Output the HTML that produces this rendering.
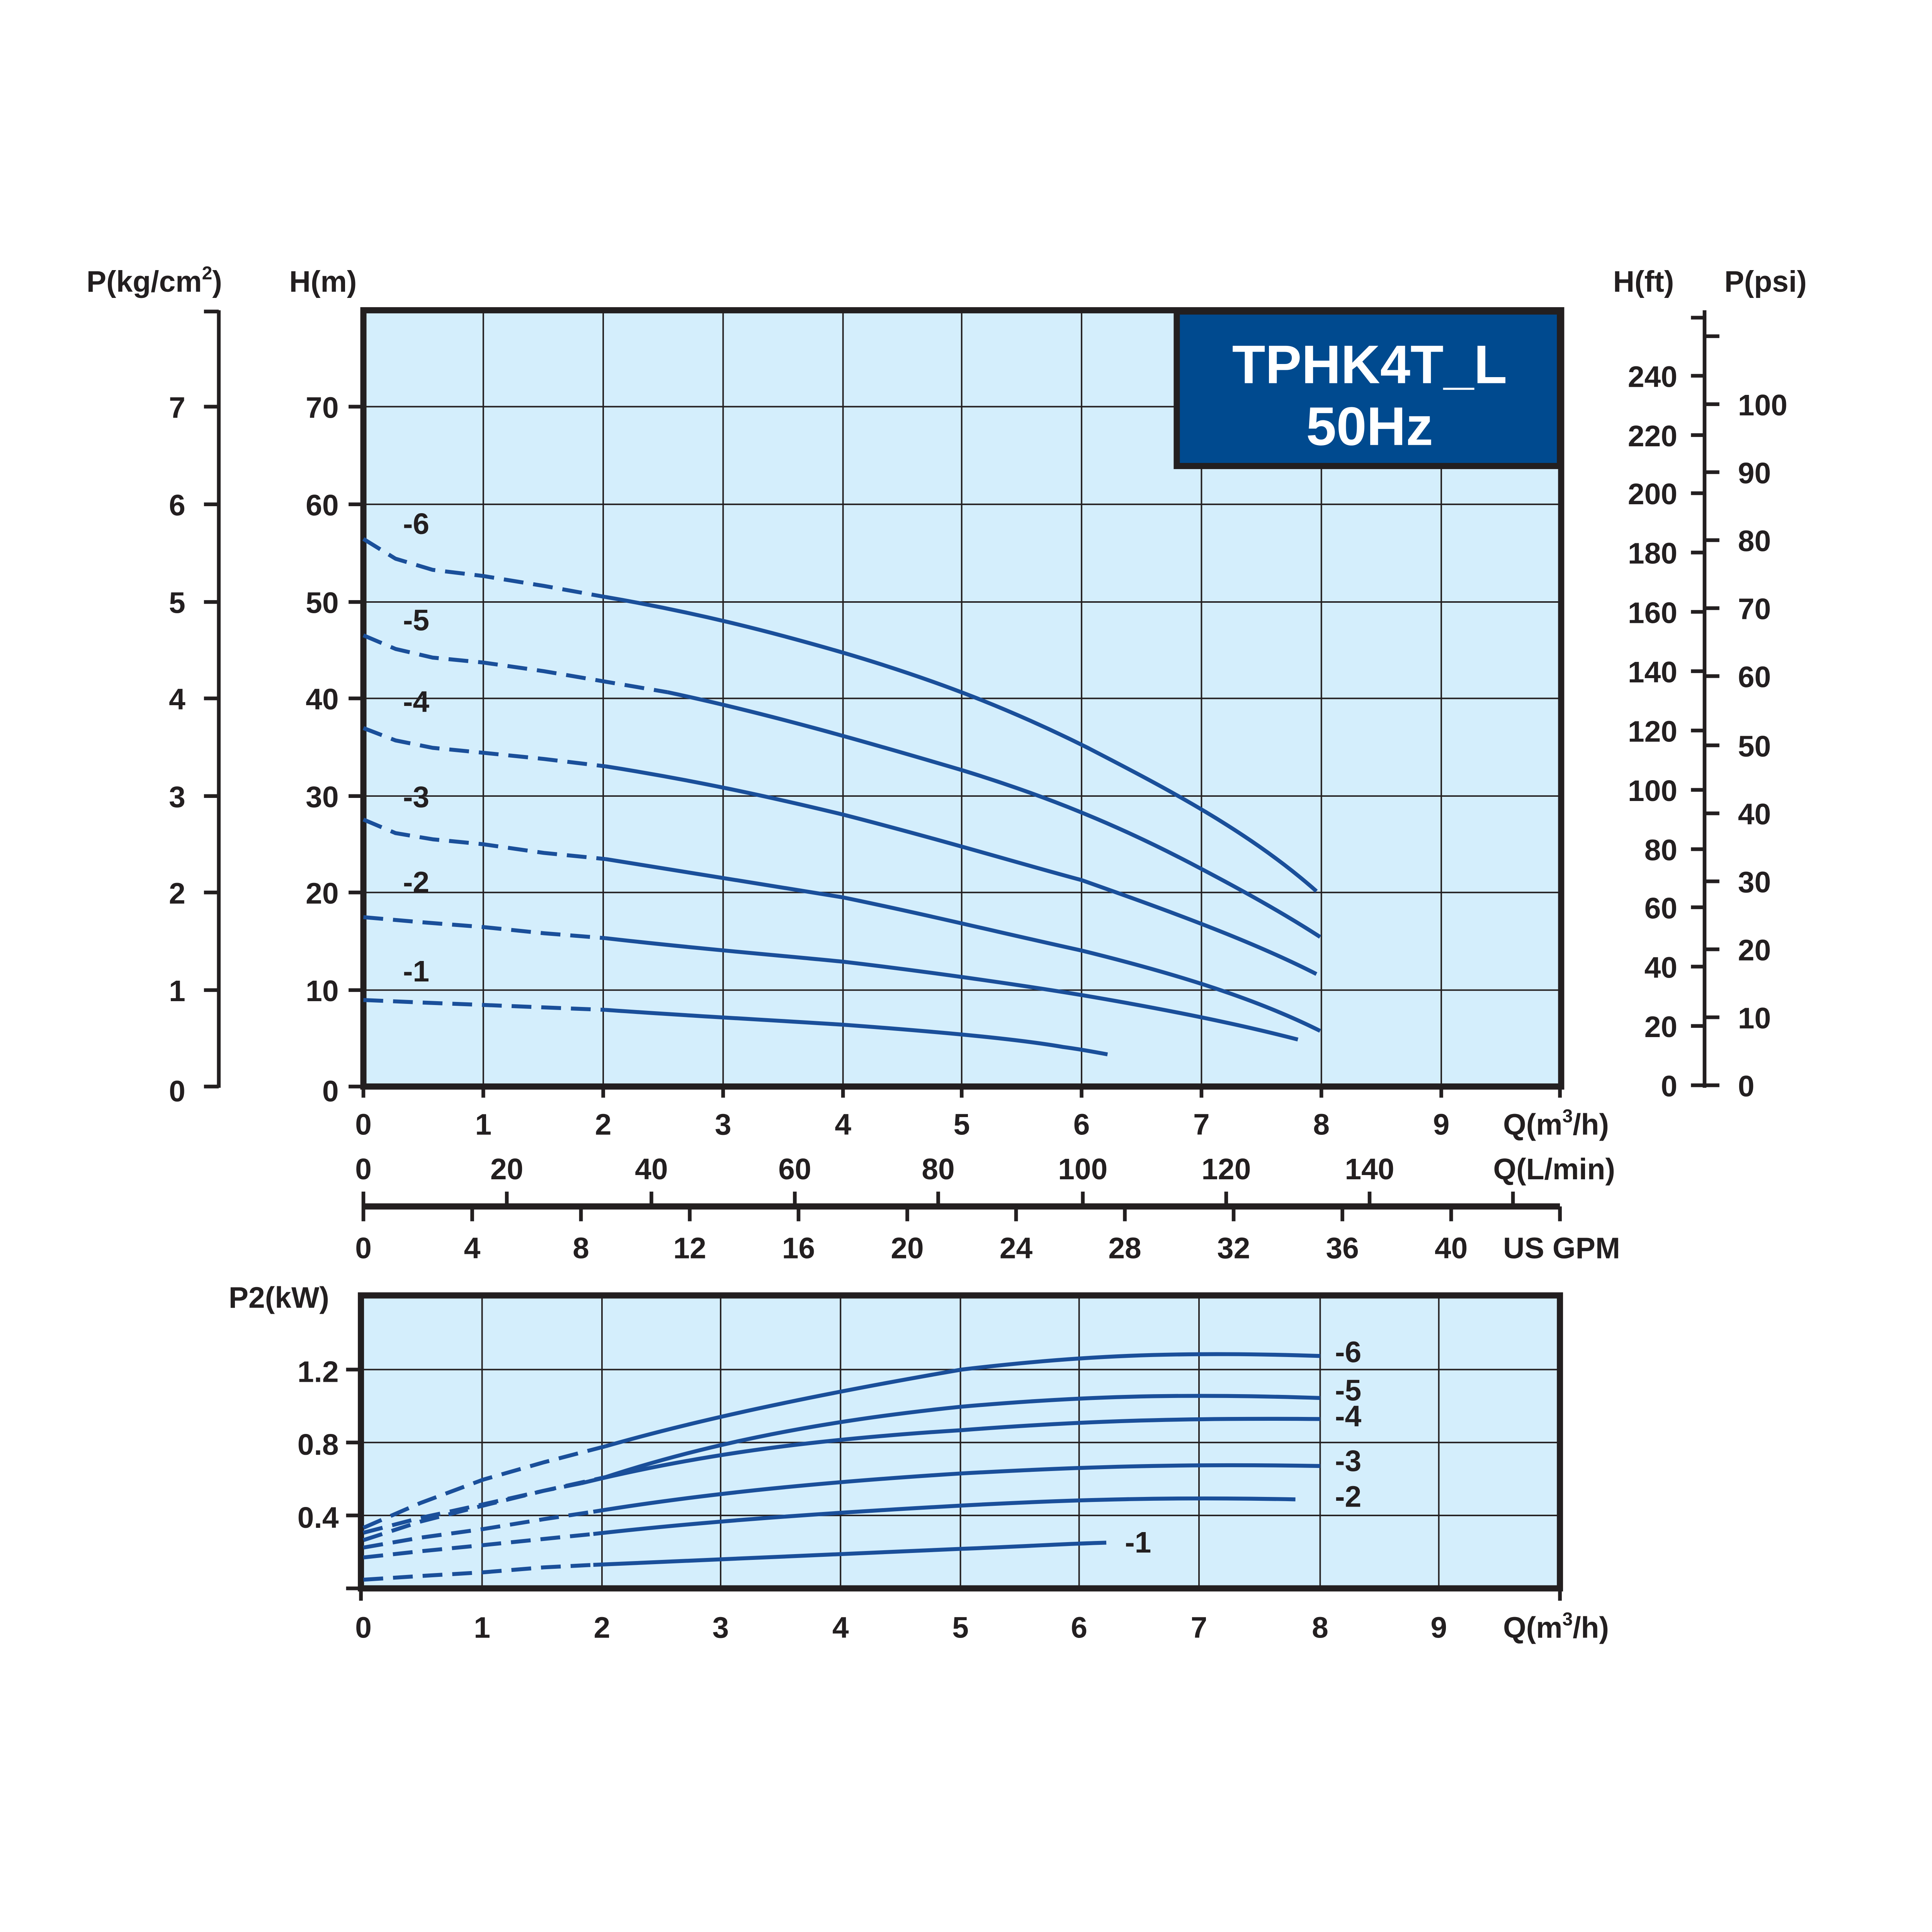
<!DOCTYPE html>
<html><head><meta charset="utf-8"><style>
html,body{margin:0;padding:0;background:#fff;overflow:hidden;width:100%;height:100%;}
svg{display:block;position:fixed;left:0;top:0;width:100vw;height:100vh;}
text{font-family:"Liberation Sans",sans-serif;font-weight:bold;fill:#231f20;}
</style></head><body>
<svg viewBox="0 0 1563 1563" preserveAspectRatio="xMidYMid meet" xmlns="http://www.w3.org/2000/svg">
<rect x="0" y="0" width="1563" height="1563" fill="#fff"/>
<rect x="294" y="251" width="969" height="628" fill="#d4eefc"/>
<g stroke="#231f20" stroke-width="1.2">
<line x1="391" y1="251" x2="391" y2="879"/><line x1="488" y1="251" x2="488" y2="879"/>
<line x1="585" y1="251" x2="585" y2="879"/><line x1="682" y1="251" x2="682" y2="879"/>
<line x1="778" y1="251" x2="778" y2="879"/><line x1="875" y1="251" x2="875" y2="879"/>
<line x1="972" y1="251" x2="972" y2="879"/><line x1="1069" y1="251" x2="1069" y2="879"/>
<line x1="1166" y1="251" x2="1166" y2="879"/>
<line x1="294" y1="801" x2="1263" y2="801"/><line x1="294" y1="722" x2="1263" y2="722"/>
<line x1="294" y1="644" x2="1263" y2="644"/><line x1="294" y1="565" x2="1263" y2="565"/>
<line x1="294" y1="487" x2="1263" y2="487"/><line x1="294" y1="408" x2="1263" y2="408"/>
<line x1="294" y1="329" x2="1263" y2="329"/>
</g>
<rect x="952" y="252" width="310" height="125" fill="#004a8f" stroke="#231f20" stroke-width="5"/>
<rect x="294" y="251" width="969" height="628" fill="none" stroke="#231f20" stroke-width="5"/>
<text x="1108" y="310" font-size="44" style="fill:#fff" text-anchor="middle">TPHK4T_L</text>
<text x="1108" y="360" font-size="44" style="fill:#fff" text-anchor="middle">50Hz</text>
<g stroke="#231f20" stroke-width="3">
<line x1="282" y1="879" x2="294" y2="879"/><line x1="282" y1="801" x2="294" y2="801"/>
<line x1="282" y1="722" x2="294" y2="722"/><line x1="282" y1="644" x2="294" y2="644"/>
<line x1="282" y1="565" x2="294" y2="565"/><line x1="282" y1="487" x2="294" y2="487"/>
<line x1="282" y1="408" x2="294" y2="408"/><line x1="282" y1="329" x2="294" y2="329"/>
<line x1="294" y1="879" x2="294" y2="888"/><line x1="391" y1="879" x2="391" y2="888"/>
<line x1="488" y1="879" x2="488" y2="888"/><line x1="585" y1="879" x2="585" y2="888"/>
<line x1="682" y1="879" x2="682" y2="888"/><line x1="778" y1="879" x2="778" y2="888"/>
<line x1="875" y1="879" x2="875" y2="888"/><line x1="972" y1="879" x2="972" y2="888"/>
<line x1="1069" y1="879" x2="1069" y2="888"/><line x1="1166" y1="879" x2="1166" y2="888"/>
<line x1="1262" y1="879" x2="1262" y2="888"/>
<line x1="177" y1="251" x2="177" y2="880"/>
<line x1="165" y1="252" x2="177" y2="252"/>
<line x1="165" y1="879" x2="177" y2="879"/><line x1="165" y1="801" x2="177" y2="801"/>
<line x1="165" y1="722" x2="177" y2="722"/><line x1="165" y1="644" x2="177" y2="644"/>
<line x1="165" y1="565" x2="177" y2="565"/><line x1="165" y1="487" x2="177" y2="487"/>
<line x1="165" y1="408" x2="177" y2="408"/><line x1="165" y1="329" x2="177" y2="329"/>
<line x1="1379" y1="251" x2="1379" y2="880"/>
<line x1="1368" y1="878" x2="1379" y2="878"/><line x1="1368" y1="830" x2="1379" y2="830"/>
<line x1="1368" y1="782" x2="1379" y2="782"/><line x1="1368" y1="734" x2="1379" y2="734"/>
<line x1="1368" y1="687" x2="1379" y2="687"/><line x1="1368" y1="639" x2="1379" y2="639"/>
<line x1="1368" y1="591" x2="1379" y2="591"/><line x1="1368" y1="543" x2="1379" y2="543"/>
<line x1="1368" y1="495" x2="1379" y2="495"/><line x1="1368" y1="447" x2="1379" y2="447"/>
<line x1="1368" y1="399" x2="1379" y2="399"/><line x1="1368" y1="352" x2="1379" y2="352"/>
<line x1="1368" y1="304" x2="1379" y2="304"/><line x1="1368" y1="257" x2="1379" y2="257"/>
<line x1="1379" y1="878" x2="1391" y2="878"/><line x1="1379" y1="823" x2="1391" y2="823"/>
<line x1="1379" y1="768" x2="1391" y2="768"/><line x1="1379" y1="713" x2="1391" y2="713"/>
<line x1="1379" y1="658" x2="1391" y2="658"/><line x1="1379" y1="603" x2="1391" y2="603"/>
<line x1="1379" y1="547" x2="1391" y2="547"/><line x1="1379" y1="492" x2="1391" y2="492"/>
<line x1="1379" y1="437" x2="1391" y2="437"/><line x1="1379" y1="382" x2="1391" y2="382"/>
<line x1="1379" y1="327" x2="1391" y2="327"/><line x1="1379" y1="272" x2="1391" y2="272"/>
<line x1="294" y1="976" x2="1262" y2="976" stroke-width="5"/>
<line x1="294" y1="964" x2="294" y2="988"/>
<line x1="410" y1="964" x2="410" y2="976"/><line x1="527" y1="964" x2="527" y2="976"/>
<line x1="643" y1="964" x2="643" y2="976"/><line x1="759" y1="964" x2="759" y2="976"/>
<line x1="876" y1="964" x2="876" y2="976"/><line x1="992" y1="964" x2="992" y2="976"/>
<line x1="1108" y1="964" x2="1108" y2="976"/><line x1="1224" y1="964" x2="1224" y2="976"/>
<line x1="382" y1="976" x2="382" y2="988"/><line x1="470" y1="976" x2="470" y2="988"/>
<line x1="558" y1="976" x2="558" y2="988"/><line x1="646" y1="976" x2="646" y2="988"/>
<line x1="734" y1="976" x2="734" y2="988"/><line x1="822" y1="976" x2="822" y2="988"/>
<line x1="910" y1="976" x2="910" y2="988"/><line x1="998" y1="976" x2="998" y2="988"/>
<line x1="1086" y1="976" x2="1086" y2="988"/><line x1="1174" y1="976" x2="1174" y2="988"/>
<line x1="1262" y1="976" x2="1262" y2="988"/>
</g>
<g font-size="24">
<text x="70" y="236">P(kg/cm<tspan font-size="15" dy="-10">2</tspan><tspan dy="10">)</tspan></text>
<text x="234" y="236">H(m)</text>
<text x="1305" y="236">H(ft)</text>
<text x="1395" y="236">P(psi)</text>
<g text-anchor="end">
<text x="274" y="891">0</text><text x="274" y="810">10</text><text x="274" y="731">20</text><text x="274" y="653">30</text>
<text x="274" y="574">40</text><text x="274" y="496">50</text><text x="274" y="417">60</text><text x="274" y="338">70</text>
<text x="150" y="891">0</text><text x="150" y="810">1</text><text x="150" y="731">2</text><text x="150" y="653">3</text>
<text x="150" y="574">4</text><text x="150" y="496">5</text><text x="150" y="417">6</text><text x="150" y="338">7</text>
<text x="1357" y="887">0</text><text x="1357" y="839">20</text><text x="1357" y="791">40</text><text x="1357" y="743">60</text>
<text x="1357" y="696">80</text><text x="1357" y="648">100</text><text x="1357" y="600">120</text><text x="1357" y="552">140</text>
<text x="1357" y="504">160</text><text x="1357" y="456">180</text><text x="1357" y="408">200</text><text x="1357" y="361">220</text>
<text x="1357" y="313">240</text>
</g>
<text x="1406" y="887">0</text><text x="1406" y="832">10</text><text x="1406" y="777">20</text><text x="1406" y="722">30</text>
<text x="1406" y="667">40</text><text x="1406" y="612">50</text><text x="1406" y="556">60</text><text x="1406" y="501">70</text>
<text x="1406" y="446">80</text><text x="1406" y="391">90</text><text x="1406" y="336">100</text>
<g text-anchor="middle">
<text x="294" y="918">0</text><text x="391" y="918">1</text><text x="488" y="918">2</text><text x="585" y="918">3</text>
<text x="682" y="918">4</text><text x="778" y="918">5</text><text x="875" y="918">6</text><text x="972" y="918">7</text>
<text x="1069" y="918">8</text><text x="1166" y="918">9</text>
<text x="294" y="954">0</text><text x="410" y="954">20</text><text x="527" y="954">40</text><text x="643" y="954">60</text>
<text x="759" y="954">80</text><text x="876" y="954">100</text><text x="992" y="954">120</text><text x="1108" y="954">140</text>
<text x="294" y="1018">0</text><text x="382" y="1018">4</text><text x="470" y="1018">8</text><text x="558" y="1018">12</text>
<text x="646" y="1018">16</text><text x="734" y="1018">20</text><text x="822" y="1018">24</text><text x="910" y="1018">28</text>
<text x="998" y="1018">32</text><text x="1086" y="1018">36</text><text x="1174" y="1018">40</text>
<text x="294" y="1325">0</text><text x="390" y="1325">1</text><text x="487" y="1325">2</text><text x="583" y="1325">3</text>
<text x="680" y="1325">4</text><text x="777" y="1325">5</text><text x="873" y="1325">6</text><text x="970" y="1325">7</text>
<text x="1068" y="1325">8</text><text x="1164" y="1325">9</text>
</g>
<text x="1216" y="918">Q(m<tspan font-size="15" dy="-10">3</tspan><tspan dy="10">/h)</tspan></text>
<text x="1208" y="954">Q(L/min)</text>
<text x="1216" y="1018">US GPM</text>
<text x="1216" y="1325">Q(m<tspan font-size="15" dy="-10">3</tspan><tspan dy="10">/h)</tspan></text>
<text x="185" y="1058">P2(kW)</text>
<g text-anchor="end">
<text x="274" y="1118">1.2</text><text x="274" y="1177">0.8</text><text x="274" y="1236">0.4</text>
</g>
</g>
<g fill="none" stroke="#1a4f9a" stroke-width="3.2" stroke-linejoin="round">
<g stroke-dasharray="16,8">
<polyline points="294,436 320,452 350,461 391,466 440,474 490,483"/>
<polyline points="294,514 320,525 350,532 391,536 440,543 540,560"/>
<polyline points="294,589 320,599 350,605 391,609 440,614 490,620"/>
<polyline points="294,663 320,674 350,679 391,683 440,690 490,695"/>
<polyline points="294,742 340,746 391,750 440,755 490,759"/>
<polyline points="294,809 340,811 391,813 440,815 490,817"/>
</g>
<path d="M490,483 C560,495 620,510 682,528 C760,551 820,575 880,605 C940,636 1010,672 1065,721"/>
<path d="M540,560 C620,577 700,600 778,623 C850,645 910,670 972,703 C1010,723 1040,740 1068,758"/>
<path d="M490,620 C560,631 620,644 682,659 C760,679 830,700 875,712 C940,735 1010,760 1065,788"/>
<path d="M490,695 C560,706 620,716 682,726 C750,740 820,757 875,769 C940,785 1010,805 1068,834"/>
<path d="M490,759 C560,767 620,772 682,778 C750,786 820,796 875,805 C940,816 1000,828 1050,841"/>
<path d="M490,817 C560,822 620,825 682,829 C750,834 820,840 860,847 C875,849 885,851 896,853"/>
</g>
<g font-size="24">
<text x="326" y="432">-6</text><text x="326" y="510">-5</text><text x="326" y="576">-4</text>
<text x="326" y="653">-3</text><text x="326" y="722">-2</text><text x="326" y="794">-1</text>
</g>
<rect x="292" y="1048" width="970" height="237" fill="#d4eefc"/>
<g stroke="#231f20" stroke-width="1.2">
<line x1="390" y1="1048" x2="390" y2="1285"/><line x1="487" y1="1048" x2="487" y2="1285"/>
<line x1="583" y1="1048" x2="583" y2="1285"/><line x1="680" y1="1048" x2="680" y2="1285"/>
<line x1="777" y1="1048" x2="777" y2="1285"/><line x1="873" y1="1048" x2="873" y2="1285"/>
<line x1="970" y1="1048" x2="970" y2="1285"/><line x1="1068" y1="1048" x2="1068" y2="1285"/>
<line x1="1164" y1="1048" x2="1164" y2="1285"/>
<line x1="292" y1="1108" x2="1262" y2="1108"/><line x1="292" y1="1167" x2="1262" y2="1167"/>
<line x1="292" y1="1226" x2="1262" y2="1226"/>
</g>
<g stroke="#231f20" stroke-width="3">
<line x1="280" y1="1108" x2="292" y2="1108"/><line x1="280" y1="1167" x2="292" y2="1167"/>
<line x1="280" y1="1226" x2="292" y2="1226"/><line x1="280" y1="1285" x2="292" y2="1285"/>
<line x1="292" y1="1285" x2="292" y2="1295"/><line x1="1262" y1="1285" x2="1262" y2="1295"/>
</g>
<rect x="292" y="1048" width="970" height="237" fill="none" stroke="#231f20" stroke-width="5"/>
<g fill="none" stroke="#1a4f9a" stroke-width="3.2" stroke-linejoin="round">
<g stroke-dasharray="16,8">
<polyline points="294,1236 340,1216 391,1197 440,1183 490,1170"/>
<polyline points="294,1240 340,1228 391,1217 440,1206 490,1195"/>
<polyline points="294,1246 340,1231 391,1218 440,1206 470,1200"/>
<polyline points="294,1252 340,1244 391,1237 440,1229 480,1223"/>
<polyline points="294,1260 340,1255 391,1250 440,1245 480,1241"/>
<polyline points="294,1278 340,1275 391,1272 440,1268 480,1266"/>
</g>
<path d="M490,1170 C560,1150 650,1130 778,1108 C870,1097 950,1093 1068,1097"/>
<path d="M490,1195 C560,1172 650,1151 778,1138 C870,1130 950,1127 1068,1131"/>
<path d="M470,1200 C560,1178 650,1165 778,1157 C870,1150 950,1147 1068,1148"/>
<path d="M480,1223 C560,1210 650,1200 778,1192 C870,1187 950,1184 1068,1186"/>
<path d="M480,1241 C560,1232 650,1225 778,1218 C870,1213 950,1211 1048,1213"/>
<path d="M480,1266 C560,1262 650,1258 778,1253 C830,1251 860,1249 895,1248"/>
</g>
<g font-size="24">
<text x="1080" y="1102">-6</text><text x="1080" y="1133">-5</text><text x="1080" y="1154">-4</text>
<text x="1080" y="1190">-3</text><text x="1080" y="1219">-2</text><text x="910" y="1256">-1</text>
</g>
</svg>
</body></html>
